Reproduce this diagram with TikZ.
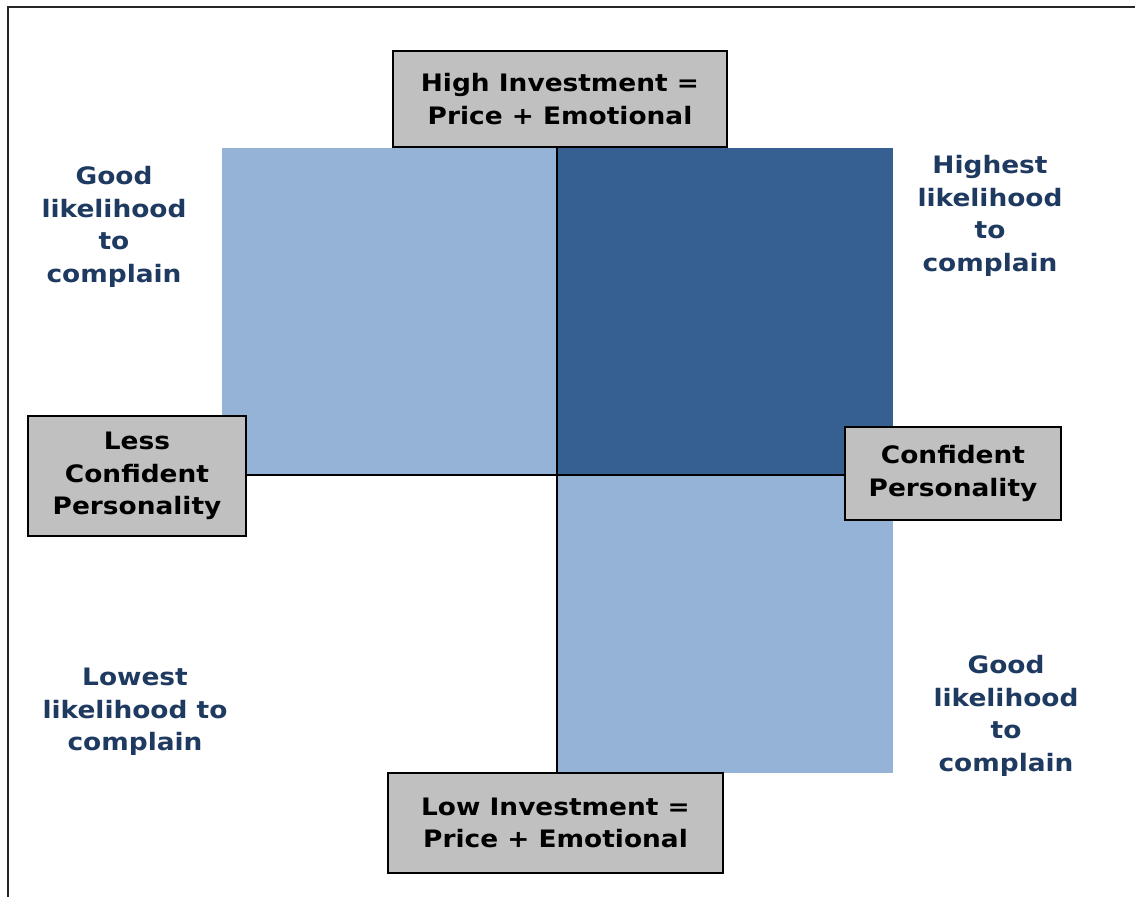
\documentclass[tikz,border=0pt]{standalone}
\usepackage{fontspec}
\usetikzlibrary{backgrounds}
\newfontfamily\vbfont{DejaVu Sans}[FakeStretch=1.1]
\definecolor{lightq}{HTML}{95B3D7}
\definecolor{darkq}{HTML}{366092}
\definecolor{navytext}{HTML}{1F3A60}
\definecolor{boxgray}{HTML}{C0C0C0}
\tikzset{
  quad/.style={draw=none, inner sep=0pt},
  axisbox/.style={draw=black, line width=1.2pt, fill=boxgray, inner sep=0pt, align=center,
    font=\vbfont\bfseries\fontsize{24}{32.5}\selectfont, text=black},
  note/.style={align=center, inner sep=0pt, text=navytext,
    font=\vbfont\bfseries\fontsize{24}{32.5}\selectfont},
  axisline/.style={draw=black, line width=1.2pt}
}
\begin{document}
\begin{tikzpicture}[x=1pt,y=-1pt]
\useasboundingbox (0,0) rectangle (1135,897);
% frame (top and left edges)
\coordinate (frTR) at (1135,7);
\coordinate (frTL) at (8,7);
\coordinate (frBL) at (8,897);
\draw[line width=1.8pt, black!85] (frTR) -- (frTL) -- (frBL);
% axis boxes
\node[axisbox, minimum width=334pt, minimum height=96pt] (tbox) at (560,99) {High Investment =\\Price + Emotional};
\node[axisbox, minimum width=335pt, minimum height=100pt] (bbox) at (555.5,823) {Low Investment =\\Price + Emotional};
\node[axisbox, minimum width=218pt, minimum height=120pt] (lbox) at (137,476) {Less\\Confident\\Personality};
\node[axisbox, minimum width=216pt, minimum height=93pt] (rbox) at (953,473.5) {Confident\\Personality};
\coordinate (ctr) at (557,475);
\begin{scope}[on background layer]
  % quadrants
  \node[quad, fill=lightq, minimum width=335pt, minimum height=326pt] (qtl) at (389.5,311) {};
  \node[quad, fill=darkq, minimum width=336pt, minimum height=326pt] (qtr) at (725,311) {};
  \node[quad, fill=lightq, minimum width=336pt, minimum height=299pt] (qbr) at (725,623.5) {};
  % axes
  \draw[axisline] (lbox.east |- ctr) -- (rbox.west |- ctr);
  \draw[axisline] (tbox.south -| ctr) -- (bbox.north -| ctr);
\end{scope}
% notes
\node[note] (ntl) at (114,227) {Good\\likelihood\\to\\complain};
\node[note] (ntr) at (990,216) {Highest\\likelihood\\to\\complain};
\node[note] (nbl) at (135,712) {Lowest\\likelihood to\\complain};
\node[note] (nbr) at (1006,716) {Good\\likelihood\\to\\complain};
\end{tikzpicture}
\end{document}
